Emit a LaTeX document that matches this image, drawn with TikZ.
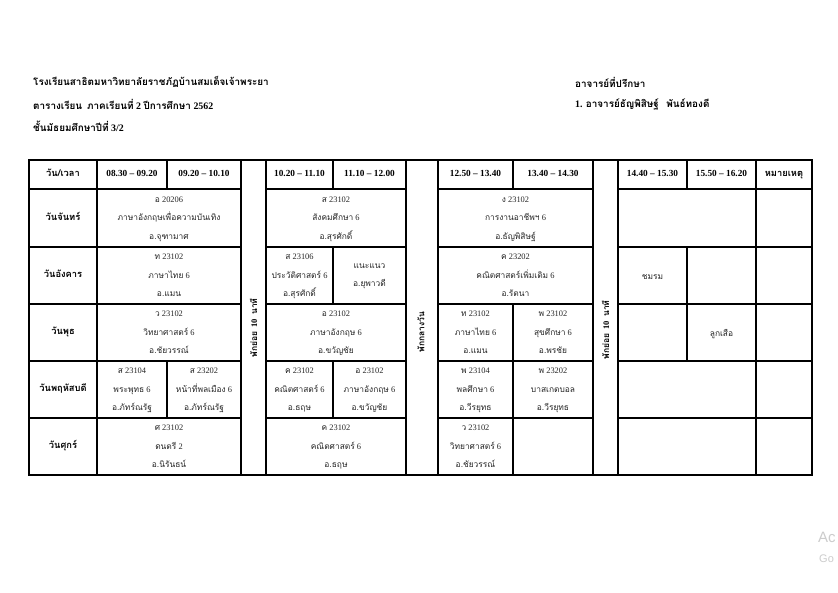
\documentclass[tikz,border=0pt]{standalone}
\usepackage{fontspec}
\setmainfont{Liberation Serif}
\newfontfamily\thaifont[Script=Thai]{Loma}
\newfontfamily\wmfont{Liberation Sans}
\newcommand\T[1]{{\thaifont #1}}
\newcommand\cellbox[6]{%
  \draw[gridline] (#2,#4) rectangle (#3,#5);
  \node[ctext,yshift=-2.5pt] (#1) at ({(#2+#3)/2},{(#4+#5)/2}) {#6};}
\newcommand\cellone[6]{%
  \draw[gridline] (#2,#4) rectangle (#3,#5);
  \node[ctext] (#1) at ({(#2+#3)/2},{(#4+#5)/2}) {#6};}
\newcommand\hcell[6]{%
  \draw[gridline] (#2,#4) rectangle (#3,#5);
  \node[htext] (#1) at ({(#2+#3)/2},{(#4+#5)/2}) {#6};}
\begin{document}
\begin{tikzpicture}[x=1pt,y=-1pt,
  gridline/.style={line width=1.1pt,black},
  ctext/.style={align=center,inner sep=0pt,text=black!85,font=\fontsize{8.4}{18.5}\selectfont,
    execute at begin node={\strut}, execute at end node={\strut}},
  htext/.style={align=center,inner sep=0pt,font=\bfseries\fontsize{9.3}{12}\selectfont,
    execute at begin node={\strut}, execute at end node={\strut}},
  brk/.style={rotate=90,inner sep=0pt,font=\bfseries\fontsize{8.5}{10}\selectfont},
  title/.style={anchor=west,inner sep=0pt,font=\bfseries\fontsize{9.9}{11}\selectfont}]
\useasboundingbox[fill=white] (0,0) rectangle (838,592);
% titles
\node[title] (t1) at (33,82) {\T{โรงเรียนสาธิตมหาวิทยาลัยราชภัฏบ้านสมเด็จเจ้าพระยา}};
\node[title] (t2) at (33,104) {\T{ตารางเรียน}\ \ \T{ภาคเรียนที่} 2\ \T{ปีการศึกษา} 2562};
\node[title] (t3) at (33,126) {\T{ชั้นมัธยมศึกษาปีที่} 3/2};
\node[title] (t4) at (575,82) {\T{อาจารย์ที่ปรึกษา}};
\node[title] (t5) at (575,104) {1. \T{อาจารย์ธัญพิสิษฐ์}\ \ \ \T{พันธ์ทองดี}};
% header
\hcell{h0}{29}{97}{160}{189}{\T{วัน/เวลา}}
\hcell{h1}{97}{167}{160}{189}{08.30 – 09.20}
\hcell{h2}{167}{241}{160}{189}{09.20 – 10.10}
\hcell{h3}{266}{333}{160}{189}{10.20 – 11.10}
\hcell{h4}{333}{406}{160}{189}{11.10 – 12.00}
\hcell{h5}{438}{513}{160}{189}{12.50 – 13.40}
\hcell{h6}{513}{593}{160}{189}{13.40 – 14.30}
\hcell{h7}{618}{687}{160}{189}{14.40 – 15.30}
\hcell{h8}{687}{756}{160}{189}{15.50 – 16.20}
\hcell{h9}{756}{812}{160}{189}{\T{หมายเหตุ}}
% break columns
\draw[gridline] (241,160) rectangle (266,475);
\draw[gridline] (406,160) rectangle (438,475);
\draw[gridline] (593,160) rectangle (618,475);
\node[brk] (b1) at (253.5,328) {\T{พักย่อย}\ \ 10\ \ \T{นาที}};
\node[brk] (b2) at (421,332) {\T{พักกลางวัน}};
\node[brk] (b3) at (605.5,330) {\T{พักย่อย}\ \ 10\ \ \T{นาที}};
% day names
\hcell{d1}{29}{97}{189}{247}{\T{วันจันทร์}}
\hcell{d2}{29}{97}{247}{304}{\T{วันอังคาร}}
\hcell{d3}{29}{97}{304}{361}{\T{วันพุธ}}
\hcell{d4}{29}{97}{361}{418}{\T{วันพฤหัสบดี}}
\hcell{d5}{29}{97}{418}{475}{\T{วันศุกร์}}
% Monday
\cellbox{mon1}{97}{241}{189}{247}{\T{อ} 20206\\\T{ภาษาอังกฤษเพื่อความบันเทิง}\\\T{อ.จุฑามาศ}}
\cellbox{mon2}{266}{406}{189}{247}{\T{ส} 23102\\\T{สังคมศึกษา} 6\\\T{อ.สุรศักดิ์}}
\cellbox{mon3}{438}{593}{189}{247}{\T{ง} 23102\\\T{การงานอาชีพฯ} 6\\\T{อ.ธัญพิสิษฐ์}}
\cellone{mon4}{618}{756}{189}{247}{}
\cellone{mon5}{756}{812}{189}{247}{}
% Tuesday
\cellbox{tue1}{97}{241}{247}{304}{\T{ท} 23102\\\T{ภาษาไทย} 6\\\T{อ.แมน}}
\cellbox{tue2}{266}{333}{247}{304}{\T{ส} 23106\\\T{ประวัติศาสตร์} 6\\\T{อ.สุรศักดิ์}}
\cellbox{tue3}{333}{406}{247}{304}{\T{แนะแนว}\\\T{อ.ยุพาวดี}}
\cellbox{tue4}{438}{593}{247}{304}{\T{ค} 23202\\\T{คณิตศาสตร์เพิ่มเติม} 6\\\T{อ.รัตนา}}
\cellone{tue5}{618}{687}{247}{304}{\T{ชมรม}}
\cellone{tue6}{687}{756}{247}{304}{}
\cellone{tue7}{756}{812}{247}{304}{}
% Wednesday
\cellbox{wed1}{97}{241}{304}{361}{\T{ว} 23102\\\T{วิทยาศาสตร์} 6\\\T{อ.ชัยวรรณ์}}
\cellbox{wed2}{266}{406}{304}{361}{\T{อ} 23102\\\T{ภาษาอังกฤษ} 6\\\T{อ.ขวัญชัย}}
\cellbox{wed3}{438}{513}{304}{361}{\T{ท} 23102\\\T{ภาษาไทย} 6\\\T{อ.แมน}}
\cellbox{wed4}{513}{593}{304}{361}{\T{พ} 23102\\\T{สุขศึกษา} 6\\\T{อ.พรชัย}}
\cellone{wed5}{618}{687}{304}{361}{}
\cellone{wed6}{687}{756}{304}{361}{\T{ลูกเสือ}}
\cellone{wed7}{756}{812}{304}{361}{}
% Thursday
\cellbox{thu1}{97}{167}{361}{418}{\T{ส} 23104\\\T{พระพุทธ} 6\\\T{อ.ภัทร์ณรัฐ}}
\cellbox{thu2}{167}{241}{361}{418}{\T{ส} 23202\\\T{หน้าที่พลเมือง} 6\\\T{อ.ภัทร์ณรัฐ}}
\cellbox{thu3}{266}{333}{361}{418}{\T{ค} 23102\\\T{คณิตศาสตร์} 6\\\T{อ.ธฤษ}}
\cellbox{thu4}{333}{406}{361}{418}{\T{อ} 23102\\\T{ภาษาอังกฤษ} 6\\\T{อ.ขวัญชัย}}
\cellbox{thu5}{438}{513}{361}{418}{\T{พ} 23104\\\T{พลศึกษา} 6\\\T{อ.วีรยุทธ}}
\cellbox{thu6}{513}{593}{361}{418}{\T{พ} 23202\\\T{บาสเกตบอล}\\\T{อ.วีรยุทธ}}
\cellone{thu7}{618}{756}{361}{418}{}
\cellone{thu8}{756}{812}{361}{418}{}
% Friday
\cellbox{fri1}{97}{241}{418}{475}{\T{ศ} 23102\\\T{ดนตรี} 2\\\T{อ.นิรันธน์}}
\cellbox{fri2}{266}{406}{418}{475}{\T{ค} 23102\\\T{คณิตศาสตร์} 6\\\T{อ.ธฤษ}}
\cellbox{fri3}{438}{513}{418}{475}{\T{ว} 23102\\\T{วิทยาศาสตร์} 6\\\T{อ.ชัยวรรณ์}}
\cellone{fri4}{513}{593}{418}{475}{}
\cellone{fri5}{618}{756}{418}{475}{}
\cellone{fri6}{756}{812}{418}{475}{}
% watermark
\node[anchor=west,inner sep=0pt,text=black!20,font=\wmfont\fontsize{15}{15}\selectfont] (wm1) at (818,537) {Ac};
\node[anchor=west,inner sep=0pt,text=black!20,font=\wmfont\fontsize{11}{11}\selectfont] (wm2) at (819,559) {Go};
\end{tikzpicture}
\end{document}
